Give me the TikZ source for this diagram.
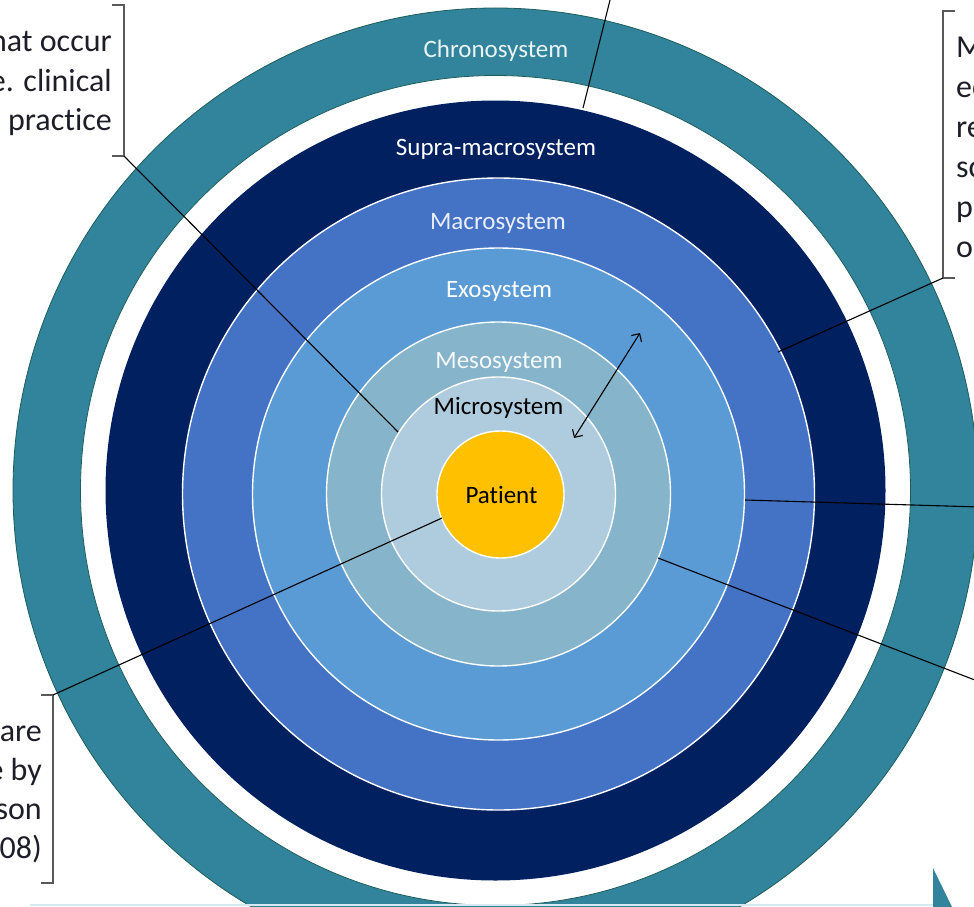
\documentclass[tikz,border=0pt]{standalone}
\usepackage{fontspec}
\setmainfont[Ligatures=NoCommon]{Carlito}
\usetikzlibrary{arrows.meta}
\definecolor{chronoC}{HTML}{31849B}
\definecolor{chronoEdge}{HTML}{1E5E5A}
\definecolor{navyC}{HTML}{002060}
\definecolor{macroC}{HTML}{4472C4}
\definecolor{exoC}{HTML}{5B9BD5}
\definecolor{mesoC}{HTML}{86B4CA}
\definecolor{microC}{HTML}{AECCDE}
\definecolor{patientC}{HTML}{FFC000}
\definecolor{textC}{HTML}{1E1E28}
\definecolor{bracketC}{HTML}{595959}
\definecolor{baseLineC}{HTML}{D5EAF0}
\begin{document}
\begin{tikzpicture}[x=1pt,y=-1pt,
  ringlabel/.style={font=\fontsize{25}{29}\selectfont, text=white, inner sep=0pt, anchor=base},
  sidetext/.style={font=\fontsize{32}{39}\selectfont, text=textC, inner sep=0pt},
  bracket/.style={draw=bracketC, line width=1.5pt},
  conn/.style={draw=black, line width=1.1pt},
  ringborder/.style={draw=white, line width=1.4pt}]
\useasboundingbox (0,0) rectangle (974,907);
\coordinate (C) at (495.5,490.5);
\coordinate (c) at (498.5,494);
% chronosystem ring
\draw[fill=chronoC, draw=chronoEdge, line width=0.8pt] (C) circle[radius=482.5pt];
\draw[fill=white, draw=chronoEdge, line width=0.8pt] (C) circle[radius=415pt];
\fill[navyC] (C) circle[radius=390pt];
\draw[ringborder, fill=macroC] (c) circle[radius=316pt];
\draw[ringborder, fill=exoC] (c) circle[radius=246pt];
\draw[ringborder, fill=mesoC] (c) circle[radius=172pt];
\draw[ringborder, fill=microC] (c) circle[radius=117pt];
\draw[ringborder, fill=patientC] (500.5,494.5) circle[radius=63.5pt];
% bottom decorations
\draw[baseLineC, line width=1.5pt] (30,905) -- (933,905);
\fill[chronoC] (933,868) -- (933,907) -- (952,907) -- cycle;
% ring labels
\node[ringlabel, text=white!90!chronoC] (chrono) at (496,58) {Chronosystem};
\node[ringlabel] (supra) at (496,155) {Supra-macrosystem};
\node[ringlabel, text=white!88!macroC] (macro) at (498,229) {Macrosystem};
\node[ringlabel] (exo) at (499,297) {Exosystem};
\node[ringlabel, text=white!92!mesoC] (meso) at (499,368) {Mesosystem};
\node[ringlabel, text=black] (micro) at (498.5,414) {Microsystem};
\node[ringlabel, text=black] (patient) at (501.5,503) {Patient};
% side texts
\node[sidetext, anchor=base east] (lt1) at (112,52) {hat occur};
\node[sidetext, anchor=base east] (lt2) at (112,91) {e. clinical};
\node[sidetext, anchor=base east] (lt3) at (112,130) {practice};
\node[sidetext, anchor=base east] (lb1) at (42,741) {are};
\node[sidetext, anchor=base east] (lb2) at (42,780) {e by};
\node[sidetext, anchor=base east] (lb3) at (42,819) {son};
\node[sidetext, anchor=base east] (lb4) at (42,858) {08)};
\node[sidetext, anchor=base west] (rt1) at (956,57) {M};
\node[sidetext, anchor=base west] (rt2) at (956,97) {ec};
\node[sidetext, anchor=base west] (rt3) at (956,137) {re};
\node[sidetext, anchor=base west] (rt4) at (956,177) {sc};
\node[sidetext, anchor=base west] (rt5) at (956,217) {pe};
\node[sidetext, anchor=base west] (rt6) at (956,257) {o};
% brackets
\coordinate (ltTop) at (124,5);
\coordinate (ltBot) at (124,156);
\draw[bracket] (112,5) -- (ltTop) -- (ltBot) -- (112,156);
\coordinate (rtTop) at (943,11);
\coordinate (rtBot) at (943,278);
\draw[bracket] (955,11) -- (rtTop) -- (rtBot) -- (955,278);
\coordinate (lbTop) at (53,695);
\coordinate (lbBot) at (53,883);
\draw[bracket] (41,695) -- (lbTop) -- (lbBot) -- (41,883);
% connector end points
\coordinate (mesoPt) at (398,432);
\coordinate (patPt) at (442,518);
\coordinate (macroPt) at (778,352);
\coordinate (supraPt) at (583,108);
\coordinate (topFree) at (612,-8);
\coordinate (exoPt) at (745,500);
\coordinate (rightFree) at (980,507);
\coordinate (mesoPt2) at (658,558);
\coordinate (rightFree2) at (980,682);
\draw[conn] (ltBot) -- (mesoPt);
\draw[conn] (lbTop) -- (patPt);
\draw[conn] (rtBot) -- (macroPt);
\draw[conn] (topFree) -- (supraPt);
\draw[conn] (exoPt) -- (rightFree);
\draw[conn] (mesoPt2) -- (rightFree2);
% double arrow
\coordinate (arrA) at (640,333);
\coordinate (arrB) at (574,438);
\draw[conn, {Straight Barb[length=6pt,width=12pt]}-{Straight Barb[length=6pt,width=12pt]}] (arrB) -- (arrA);
\end{tikzpicture}
\end{document}
